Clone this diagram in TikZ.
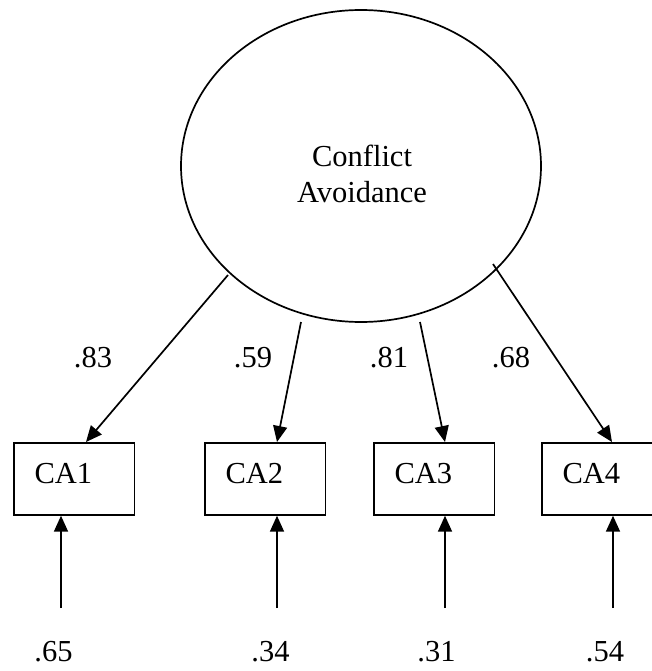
\documentclass[tikz,border=0pt]{standalone}
\usepackage{fontspec}
\setmainfont{Liberation Serif}
\usetikzlibrary{arrows.meta,shapes.geometric,calc}
\begin{document}
\begin{tikzpicture}[x=1pt,y=-1pt,
  every node/.style={font=\fontsize{30.5}{36}\selectfont},
  ln/.style={line width=1.7pt},
  arr/.style={ln,-{Triangle[length=16pt,width=14pt]}},
  obsbox/.style={draw,ln,rectangle,anchor=north west,minimum width=120.5pt,minimum height=72pt,
    inner xsep=20.5pt,inner ysep=0pt,text width=79pt,align=left,text height=20pt,text depth=10pt},
  lbl/.style={anchor=base,inner sep=0pt}
]
\clip (0,0) rectangle (652,671);
\fill[white] (0,0) rectangle (652,671);
% latent variable
\node[draw,ln,ellipse,minimum width=360pt,minimum height=312pt,inner sep=0pt] (lv) at (361,166) {};
\node[anchor=north,inner sep=0pt,align=center] (lvtext) at (362,144.5) {Conflict\\Avoidance};
% observed boxes
\node[obsbox] (b1) at (13,442) {CA1};
\node[obsbox] (b2) at (204,442) {CA2};
\node[obsbox] (b3) at (373,442) {CA3};
\node[obsbox] (b4) at (541,442) {CA4};
% loading start points
\coordinate (s1) at ($(lv.center)+(-133,109)$);
\coordinate (s2) at ($(lv.center)+(-60,156)$);
\coordinate (s3) at ($(lv.center)+(59,156)$);
\coordinate (s4) at ($(lv.center)+(132,98)$);
\draw[arr] (s1) -- ($(b1.north west)+(73,0)$);
\draw[arr] (s2) -- ($(b2.north west)+(73,0)$);
\draw[arr] (s3) -- ($(b3.north west)+(72,0)$);
\draw[arr] (s4) -- ($(b4.north west)+(71,0)$);
% loadings
\node[lbl] (l1) at (93,367) {.83};
\node[lbl] (l2) at (253,367) {.59};
\node[lbl] (l3) at (389,367) {.81};
\node[lbl] (l4) at (511,367) {.68};
% error arrows
\coordinate (u1) at (61,608);
\coordinate (u2) at (277,608);
\coordinate (u3) at (445,608);
\coordinate (u4) at (613,608);
\draw[arr] (u1) -- (u1 |- b1.south);
\draw[arr] (u2) -- (u2 |- b2.south);
\draw[arr] (u3) -- (u3 |- b3.south);
\draw[arr] (u4) -- (u4 |- b4.south);
% error variances
\node[lbl] (e1) at (53.5,661) {.65};
\node[lbl] (e2) at (270.5,661) {.34};
\node[lbl] (e3) at (436.5,661) {.31};
\node[lbl] (e4) at (605,661) {.54};
\end{tikzpicture}
\end{document}
